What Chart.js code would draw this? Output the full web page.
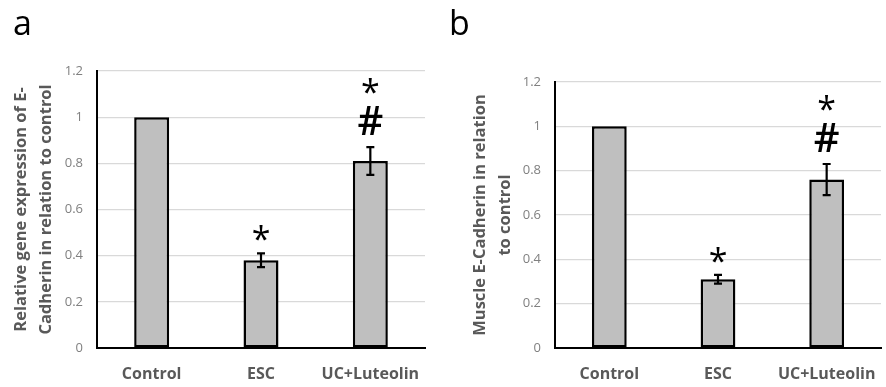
<!DOCTYPE html>
<html>
<head>
<meta charset="utf-8">
<script src="https://cdn.jsdelivr.net/npm/chart.js@4.4.0/dist/chart.umd.min.js"></script>
<style>
  html, body { margin: 0; padding: 0; background: #fff; }
  #wrap { position: relative; width: 886px; height: 387px; overflow: hidden; }
  .panel { position: absolute; top: 0; width: 443px; height: 387px; }
</style>
</head>
<body>
<div id="wrap">
  <div class="panel" style="left:0"><canvas id="ca" width="443" height="387"></canvas></div>
  <div class="panel" style="left:443px"><canvas id="cb" width="443" height="387"></canvas></div>
</div>
<script>
// ---- data ----
const categories = ['Control', 'ESC', 'UC+Luteolin'];
const yTickValues = [0, 0.2, 0.4, 0.6, 0.8, 1, 1.2];
const yTickLabels = ['0', '0.2', '0.4', '0.6', '0.8', '1', '1.2'];

const aValues = [1.0, 0.38, 0.81];
const aErrors = [0, 0.03, 0.06];
const aMarks = [[], ['*'], ['#', '*']];
const aTitle = ['Relative gene expression of E-', 'Cadherin in relation to control'];
const aLetter = 'a';

const bValues = [1.0, 0.31, 0.76];
const bErrors = [0, 0.02, 0.07];
const bMarks = [[], ['*'], ['#', '*']];
const bTitle = ['Muscle E-Cadherin in relation', 'to control'];
const bLetter = 'b';

const FONT = '"Open Sans"';

const extrasPlugin = {
  id: 'extras',
  afterDatasetsDraw(chart, args, opts) {
    const ctx = chart.ctx;
    const x = chart.scales.x, y = chart.scales.y;
    const vals = opts.values, errs = opts.errors, marks = opts.marks;
    ctx.save();
    vals.forEach((v, i) => {
      const cx = x.getPixelForValue(i);
      const e = errs[i];
      let top = y.getPixelForValue(v);
      if (e > 0) {
        const yt = y.getPixelForValue(v + e);
        const yb = y.getPixelForValue(v - e);
        ctx.strokeStyle = '#000';
        ctx.lineWidth = 2.2;
        ctx.beginPath();
        ctx.moveTo(cx, yt); ctx.lineTo(cx, yb);
        ctx.moveTo(cx - 4, yt); ctx.lineTo(cx + 4, yt);
        ctx.moveTo(cx - 4, yb); ctx.lineTo(cx + 4, yb);
        ctx.stroke();
        top = yt;
      }
      let bottom = top - 12;
      ctx.fillStyle = '#000';
      ctx.textAlign = 'center';
      ctx.textBaseline = 'alphabetic';
      marks[i].forEach(m => {
        ctx.font = m === '*' ? '34px ' + FONT : '600 40px ' + FONT;
        const mt = ctx.measureText(m);
        const desc = mt.actualBoundingBoxDescent;
        const asc = mt.actualBoundingBoxAscent;
        ctx.fillText(m, cx, bottom - desc);
        bottom = bottom - desc - asc - 12;
      });
    });
    ctx.font = '34px ' + FONT;
    ctx.fillStyle = '#000';
    ctx.textAlign = 'left';
    ctx.textBaseline = 'alphabetic';
    ctx.fillText(opts.letter, opts.letterX, 35);
    ctx.restore();
  }
};

function makeChart(id, values, errors, marks, title, letter, cfg) {
  return new Chart(document.getElementById(id), {
    type: 'bar',
    data: {
      labels: categories,
      datasets: [{
        data: values,
        backgroundColor: '#bfbfbf',
        borderColor: '#000',
        borderWidth: 2.5,
        borderSkipped: false,
        categoryPercentage: 1,
        barPercentage: 0.32
      }]
    },
    options: {
      responsive: false,
      devicePixelRatio: 1,
      animation: false,
      layout: { padding: { left: 0, right: cfg.right, top: cfg.top, bottom: 0 } },
      plugins: {
        legend: { display: false },
        tooltip: { enabled: false },
        extras: { values, errors, marks, letter, letterX: cfg.letterX }
      },
      scales: {
        x: {
          grid: { display: false },
          border: { display: true, color: '#000', width: 2 },
          ticks: { color: '#595959', font: { family: FONT, size: 16, weight: 'bold' }, padding: 9 },
          afterFit(s) { s.height = 39; }
        },
        y: {
          min: 0, max: 1.2,
          afterBuildTicks(s) { s.ticks = yTickValues.map(v => ({ value: v })); },
          grid: { color: '#d9d9d9', lineWidth: 1.2, drawTicks: false },
          border: { display: true, color: '#000', width: 2 },
          ticks: {
            color: '#808080', font: { family: FONT, size: 13 }, padding: 14,
            callback(v) { const k = yTickValues.indexOf(v); return k >= 0 ? yTickLabels[k] : ''; }
          },
          title: {
            display: true, text: title, color: '#595959',
            font: { family: FONT, size: 16.5, weight: 'bold', lineHeight: 25 / 16.5 },
            padding: { top: cfg.titlePad, bottom: 0 }
          },
          afterFit(s) { s.width = cfg.yWidth; }
        }
      }
    },
    plugins: [extrasPlugin]
  });
}

makeChart('ca', aValues, aErrors, aMarks, aTitle, aLetter, { right: 18, top: 71, yWidth: 97, titlePad: 9, letterX: 13 });
makeChart('cb', bValues, bErrors, bMarks, bTitle, bLetter, { right: 5, top: 82, yWidth: 112, titlePad: 25, letterX: 6 });
</script>
</body>
</html>
